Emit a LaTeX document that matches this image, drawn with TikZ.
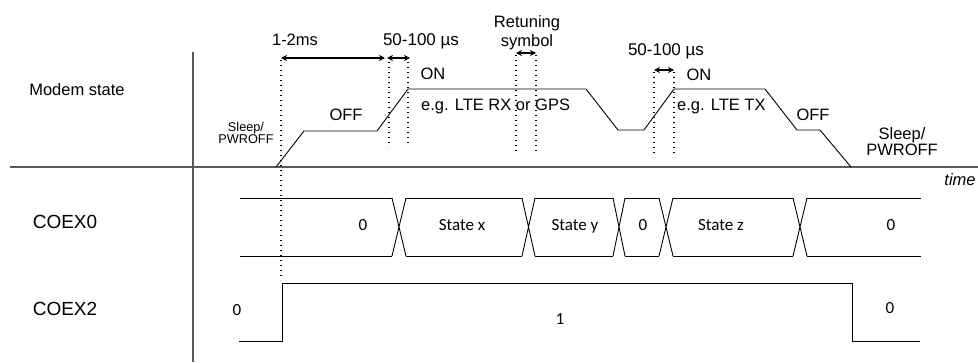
\documentclass[tikz,border=0pt]{standalone}
\usepackage{fontspec}
\setmainfont{Liberation Sans}
\newfontfamily\busfont{Carlito}
\usepackage{tikz}
\usetikzlibrary{arrows.meta, positioning}

\begin{document}
\begin{tikzpicture}[x=1pt, y=-1pt,
    wave/.style={line width=0.9pt, black},
    axisline/.style={line width=1.2pt, black!65},
    dotline/.style={line width=1.3pt, dash pattern=on 1.3pt off 3.7pt},
    dimarrow/.style={line width=1.1pt, {Stealth[length=6pt,width=6pt]}-{Stealth[length=6pt,width=6pt]}},
    mlbl/.style={inner sep=0pt, font=\fontsize{16.5}{19}\selectfont},
    lbl/.style={mlbl, text height=0.72em, text depth=0pt},
    sidelbl/.style={inner sep=0pt, text height=0.72em, text depth=0pt, font=\fontsize{19}{22}\selectfont},
    buslbl/.style={inner sep=0pt, text height=0.64em, text depth=0pt, font=\busfont\fontsize{17}{20}\selectfont}]
\useasboundingbox (0,0) rectangle (978,362);

% Axes
\draw[axisline] (193,52) -- (193,362);
\draw[axisline] (10,167) -- (978,167);

% Row labels
\node[lbl] (modem) at (77,92) {Modem state};
\node[sidelbl] (coex0) at (65,225) {COEX0};
\node[sidelbl] (coex2) at (65,312) {COEX2};
\node[lbl, font=\itshape\fontsize{16.5}{19}\selectfont] (time) at (960,182) {time};

% Modem state waveform
\draw[wave] (276,167) -- (304,131) -- (377,131) -- (408,89) -- (586,89) -- (618,130)
    -- (644,130) -- (674,89) -- (765,89) -- (797,130) -- (820,130) -- (851,167);

% Modem state labels
\node[mlbl, font=\fontsize{12.7}{11}\selectfont, align=center] (sleepA) at (246,133) {Sleep/\\PWROFF};
\node[lbl] (offA) at (346,117) {OFF};
\node[lbl] (onA) at (433,76) {ON};
\node[lbl, anchor=west] (rx) at (421,107) {e.g. LTE RX or GPS};
\node[lbl] (onB) at (699,77) {ON};
\node[lbl, anchor=west] (tx) at (677,107) {e.g. LTE TX};
\node[lbl] (offB) at (813,117) {OFF};
\node[mlbl, font=\fontsize{16.5}{16}\selectfont, align=center] (sleepB) at (902,142) {Sleep/\\PWROFF};

% Dotted markers
\foreach \x/\ya/\yb/\nm in {281/60/280/a, 389/62/147/b, 408/62/147/c, 516/55/153/d, 536/55/153/e, 654/72/157/f, 674/72/157/g} {
    \coordinate (top\nm) at (\x,\ya);
    \coordinate (bot\nm) at (\x,\yb);
    \draw[dotline] (top\nm) -- (bot\nm);
}

% Timing intervals
\coordinate (msA) at (281,58);
\coordinate (msB) at (385,58);
\coordinate (usA) at (387,58);
\coordinate (usB) at (410,58);
\coordinate (rtA) at (516,53);
\coordinate (rtB) at (536,53);
\coordinate (txA) at (654,70);
\coordinate (txB) at (674,70);
\draw[dimarrow] (msA) -- (msB);
\draw[dimarrow] (usA) -- (usB);
\draw[dimarrow] (rtA) -- (rtB);
\draw[dimarrow] (txA) -- (txB);
\node[lbl] (ms) at (295,42) {1-2ms};
\node[lbl, font=\fontsize{17}{19}\selectfont] (usOn) at (421,42) {50-100 µs};
\node[mlbl, align=center] (retune) at (527,33) {Retuning\\symbol};
\node[lbl, font=\fontsize{17}{19}\selectfont] (usTx) at (666,52) {50-100 µs};

% COEX0 bus
\foreach \a/\b in {240/392, 406/522, 535/613, 625/659, 673/793, 807/921} {
    \draw[wave] (\a,198) -- (\b,198) (\a,256) -- (\b,256);
}
\foreach \a/\b in {392/406, 522/535, 613/625, 659/673, 793/807} {
    \draw[wave] (\a,198) -- (\b,256) (\a,256) -- (\b,198);
}
\node[buslbl] (bz1) at (363,227) {0};
\node[buslbl] (bx) at (462,227) {State x};
\node[buslbl] (by) at (575,227) {State y};
\node[buslbl] (bz2) at (643,227) {0};
\node[buslbl] (bzz) at (721,227) {State z};
\node[buslbl] (bz3) at (891,227) {0};

% COEX2 line
\draw[wave] (239,341) -- (282,341) -- (282,283) -- (852,283) -- (852,341) -- (920,341);
\node[buslbl] (cz1) at (237,312) {0};
\node[buslbl] (cone) at (560,321) {1};
\node[buslbl] (cz2) at (890,310) {0};

\end{tikzpicture}
\end{document}
